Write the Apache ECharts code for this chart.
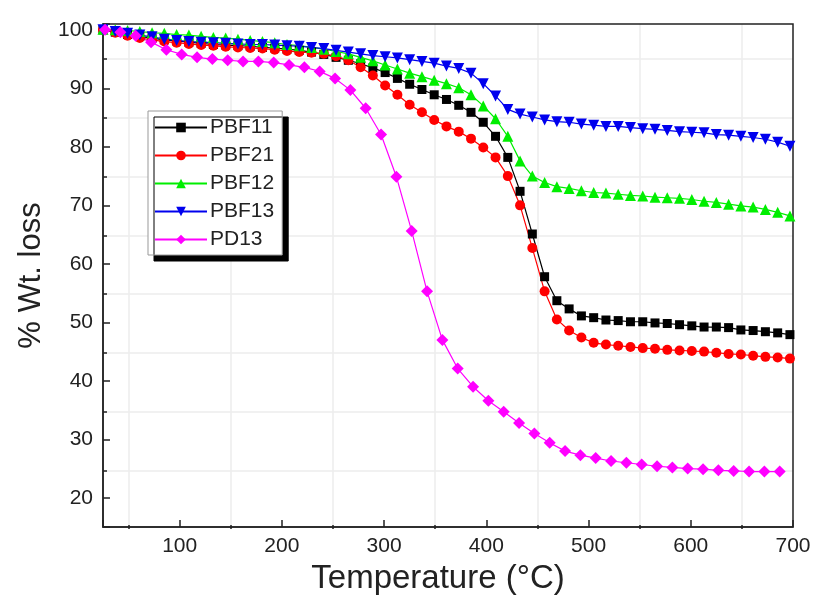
<!DOCTYPE html>
<html>
<head>
<meta charset="utf-8">
<script src="https://cdn.jsdelivr.net/npm/echarts@6/dist/echarts.min.js"></script>
<style>html,body{margin:0;padding:0;background:#fff}#c{width:817px;height:600px}</style>
</head>
<body>
<div id="c"></div>
<script>
// ---- data ----
const seriesNames = ['PBF11', 'PBF21', 'PBF12', 'PBF13', 'PD13'];
const pbfTemps = [25,37,49,61,73,85,97,109,121,133,145,157,169,181,193,205,217,229,241,253,265,277,289,301,313,325,337,349,361,373,385,397,409,421,433,445,457,469,481,493,505,517,529,541,553,565,577,589,601,613,625,637,649,661,673,685,697];
const pdTemps = [27,42,57,72,87,102,117,132,147,162,177,192,207,222,237,252,267,282,297,312,327,342,357,372,387,402,417,432,447,462,477,492,507,522,537,552,567,582,597,612,627,642,657,672,687];
const pbf11 = [100.0,99.6,99.2,98.9,98.6,98.3,98.1,97.9,97.7,97.5,97.4,97.3,97.2,97.0,96.9,96.7,96.5,96.2,95.8,95.3,94.8,94.2,93.5,92.7,91.7,
  90.7,89.8,88.9,88.1,87.1,85.9,84.2,81.8,78.2,72.4,65.1,57.8,53.7,52.3,51.1,50.8,50.4,50.3,50.1,50.1,49.9,49.8,49.6,49.4,49.2,49.2,49.1,48.7,48.6,48.4,48.2,47.9];
const pbf21 = [100.0,99.5,99.0,98.6,98.3,98.0,97.8,97.6,97.4,97.3,97.1,97.0,96.9,96.8,96.6,96.4,96.2,96.1,95.9,95.5,94.8,
  93.6,92.2,90.5,88.9,87.2,85.9,84.6,83.5,82.6,81.4,79.9,78.2,75.0,70.0,62.7,55.3,50.5,48.6,47.4,46.5,46.2,46.0,45.8,45.6,45.5,45.3,45.2,45.1,45.0,44.8,44.6,44.5,44.3,44.1,44.0,43.8];
const pbf12 = [100.1,100.0,99.9,99.7,99.5,99.4,99.2,99.1,98.9,98.7,98.6,98.4,98.2,98.0,97.8,97.5,97.3,97.0,96.7,96.3,95.9,95.3,94.7,94.0,
  93.3,92.6,92.0,91.4,90.8,90.1,88.9,87.0,84.8,81.8,77.6,75.0,73.9,73.2,72.9,72.5,72.2,72.1,71.9,71.7,71.6,71.4,71.3,71.2,71.0,70.7,70.5,70.2,69.9,69.7,69.3,68.8,68.2];
const pbf13 = [100.0,99.7,99.4,99.1,98.8,98.4,98.2,98.0,97.9,97.8,97.7,97.6,97.5,97.5,97.4,97.3,97.2,97.0,96.8,96.5,96.2,95.9,95.6,95.4,
  95.2,94.9,94.6,94.3,93.8,93.4,92.6,90.8,88.7,86.4,85.6,85.1,84.6,84.3,84.2,83.9,83.7,83.5,83.5,83.3,83.1,83.0,82.8,82.6,82.5,82.4,82.1,82.0,81.8,81.6,81.3,80.8,80.1];
const pd13 = [100.0,99.6,99.0,97.9,96.6,95.8,95.3,95.0,94.8,94.6,94.6,94.4,94.0,93.6,92.9,91.7,89.7,86.6,82.1,74.9,65.6,55.3,47.0,42.1,39.0,36.6,34.7,32.8,31.0,29.4,28.0,27.3,26.8,26.3,26.0,25.7,25.4,25.2,25.0,24.9,24.7,24.6,24.5,24.5,24.5];
const xRange = [25, 700];
const yRange = [15, 101];
const xMinorGrid = [50, 650];   // faint grid lines at the odd 50s
const yMinorGrid = [25, 95];    // faint grid lines at the odd 5s

// ---- layout ----
const L = 103, R = 24, T = 24, B = 71;
const W = 817 - L - R, H = 600 - T - B;
const gxL = L + (xMinorGrid[0] - xRange[0]) / (xRange[1] - xRange[0]) * W;
const gxR = R + (xRange[1] - xMinorGrid[1]) / (xRange[1] - xRange[0]) * W;
const gyB = B + (yMinorGrid[0] - yRange[0]) / (yRange[1] - yRange[0]) * H;
const gyT = T + (yRange[1] - yMinorGrid[1]) / (yRange[1] - yRange[0]) * H;

const pairs = (xs, ys) => xs.map((x, i) => [x, ys[i]]);
const font = '"Liberation Sans", Arial, sans-serif';

function mk(name, xs, ys, color, symbol, size, rot) {
  return {
    name, type: 'line', data: pairs(xs, ys), xAxisIndex: 0, yAxisIndex: 0,
    symbol, symbolSize: size, symbolRotate: rot || 0, showAllSymbol: true,
    lineStyle: { color, width: 1.2 }, itemStyle: { color, borderWidth: 0 },
    emphasis: { disabled: true }, z: 3
  };
}

const chart = echarts.init(document.getElementById('c'), null, { renderer: 'canvas' });
chart.setOption({
  animation: false,
  backgroundColor: '#fff',
  grid: [
    { left: L, right: R, top: T, bottom: B, show: true, borderColor: '#222', borderWidth: 1.5, z: 1 },
    { left: gxL, right: gxR, top: T, bottom: B },
    { left: L, right: R, top: gyT, bottom: gyB }
  ],
  xAxis: [
    { type: 'value', gridIndex: 0, min: xRange[0], max: xRange[1], splitNumber: 7,
      axisLine: { lineStyle: { color: '#222', width: 1.5 } },
      axisTick: { inside: true, length: 7, lineStyle: { color: '#222', width: 1.5 } },
      axisLabel: { margin: 9, color: '#222', fontSize: 21, fontFamily: font,
        formatter: v => (v % 100 === 0 ? String(v) : '') },
      splitLine: { show: false },
      name: 'Temperature (°C)', nameLocation: 'middle', nameGap: 29,
      nameTextStyle: { fontSize: 33, color: '#222', fontFamily: font, padding: [0, 20, 0, 0] } },
    { type: 'value', gridIndex: 1, min: xMinorGrid[0], max: xMinorGrid[1], interval: 100,
      axisLine: { show: false }, axisLabel: { show: false },
      axisTick: { inside: true, length: 4, lineStyle: { color: '#222', width: 1.5 } },
      splitLine: { show: true, lineStyle: { color: '#ededed', width: 1.5 } } },
    { type: 'value', gridIndex: 2, show: false, min: 0, max: 1 }
  ],
  yAxis: [
    { type: 'value', gridIndex: 0, min: yRange[0], max: yRange[1], splitNumber: 9,
      axisLine: { lineStyle: { color: '#222', width: 1.5 } },
      axisTick: { inside: true, length: 7, lineStyle: { color: '#222', width: 1.5 } },
      axisLabel: { margin: 10, color: '#222', fontSize: 21, fontFamily: font,
        formatter: v => (v % 10 === 0 ? String(v) : '') },
      splitLine: { show: false },
      name: '% Wt. loss', nameLocation: 'middle', nameGap: 56,
      nameTextStyle: { fontSize: 31, color: '#222', fontFamily: font } },
    { type: 'value', gridIndex: 1, show: false, min: 0, max: 1 },
    { type: 'value', gridIndex: 2, min: yMinorGrid[0], max: yMinorGrid[1], interval: 10,
      axisLine: { show: false }, axisLabel: { show: false },
      axisTick: { inside: true, length: 4, lineStyle: { color: '#222', width: 1.5 } },
      splitLine: { show: true, lineStyle: { color: '#ededed', width: 1.5 } } }
  ],
  legend: {
    data: seriesNames, orient: 'vertical', left: 148, top: 111,
    itemWidth: 52, itemHeight: 12, itemGap: 7,
    padding: [6, 8, 5, 6],
    backgroundColor: '#fff', borderColor: '#999', borderWidth: 1,
    shadowColor: '#000', shadowBlur: 0, shadowOffsetX: 6, shadowOffsetY: 6,
    textStyle: { fontSize: 21, color: '#222', fontFamily: font, padding: [0, 0, 0, -2] },
    selectedMode: false
  },
  series: [
    mk('PBF11', pbfTemps, pbf11, '#000000', 'rect', 9),
    mk('PBF21', pbfTemps, pbf21, '#ff0000', 'circle', 10),
    mk('PBF12', pbfTemps, pbf12, '#00ee00', 'triangle', 11),
    mk('PBF13', pbfTemps, pbf13, '#0000ee', 'triangle', 11, 180),
    mk('PD13', pdTemps, pd13, '#ff00ff', 'diamond', 12)
  ]
});
</script>
</body>
</html>
